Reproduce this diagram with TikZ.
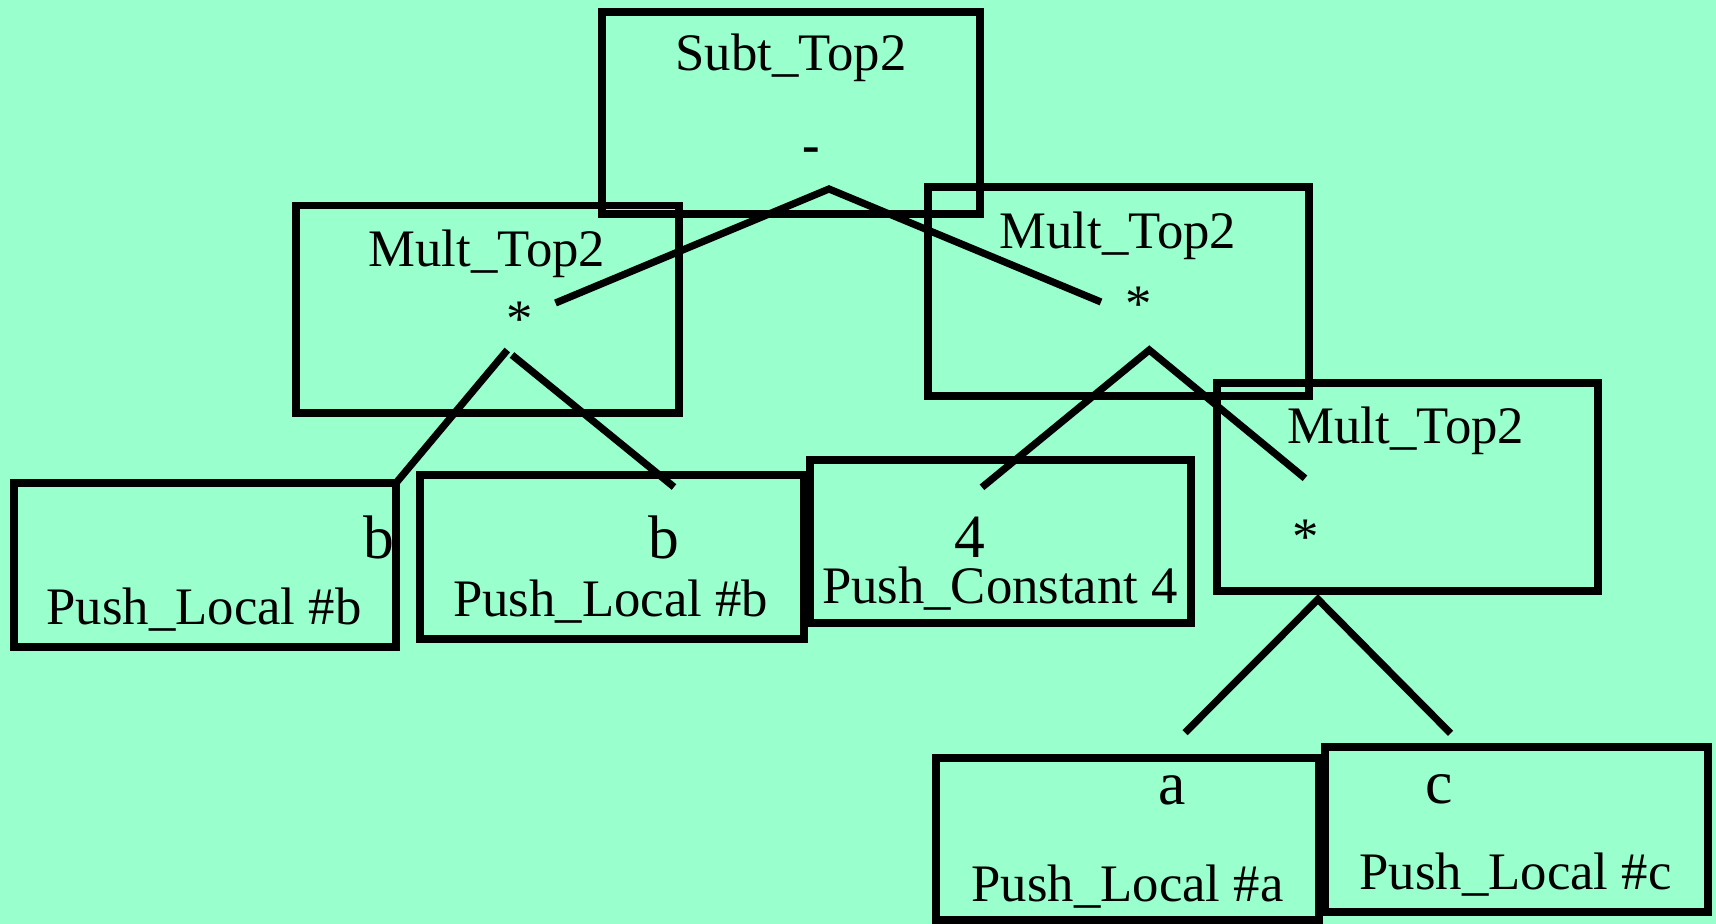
\documentclass[tikz,border=0pt]{standalone}
\usepackage{fontspec}
\setmainfont{Liberation Serif}
\definecolor{mint}{RGB}{153,255,204}
\begin{document}
\begin{tikzpicture}[x=1cm,y=1cm,
  box/.style={draw=black, line width=2.05pt, rectangle, inner sep=0pt, outer sep=0pt},
  edge/.style={draw=black, line width=2.05pt},
  lbl/.style={inner sep=0pt, anchor=base, font=\fontsize{15pt}{18pt}\selectfont},
  push/.style={inner sep=0pt, anchor=base, font=\fontsize{15pt}{18pt}\selectfont},
  var/.style={inner sep=0pt, anchor=base, font=\fontsize{17.5pt}{21pt}\selectfont},
]
\fill[mint] (0,0) rectangle (17.16,-9.24);
\useasboundingbox (0,0) rectangle (17.16,-9.24);

% operator boxes
\node[box, minimum width=3.78cm, minimum height=2.02cm] (sub) at (7.91,-1.13) {};
\node[box, minimum width=3.83cm, minimum height=2.075cm] (mulL) at (4.875,-3.0925) {};
\node[box, minimum width=3.81cm, minimum height=2.09cm] (mulR) at (11.185,-2.915) {};
\node[box, minimum width=3.81cm, minimum height=2.08cm] (mulC) at (14.075,-4.87) {};

% leaf boxes
\node[box, minimum width=3.82cm, minimum height=1.64cm] (pb1) at (2.05,-5.65) {};
\node[box, minimum width=3.84cm, minimum height=1.64cm] (pb2) at (6.12,-5.57) {};
\node[box, minimum width=3.81cm, minimum height=1.63cm] (pc4) at (10.005,-5.415) {};
\node[box, minimum width=3.83cm, minimum height=1.62cm] (pa) at (11.275,-8.39) {};
\node[box, minimum width=3.83cm, minimum height=1.65cm] (pc) at (15.165,-8.295) {};

% texts of the operator boxes
\node[lbl] (subName) at (7.91,-0.71) {Subt\_Top2};
\node[lbl] (subOp) at (8.115,-1.63) {\bfseries -};
\node[lbl] (mulLName) at (4.87,-2.667) {Mult\_Top2};
\node[lbl] (mulLOp) at (5.20,-3.364) {*};
\node[lbl] (mulRName) at (11.18,-2.483) {Mult\_Top2};
\node[lbl] (mulROp) at (11.39,-3.22) {*};
\node[lbl] (mulCName) at (14.06,-4.433) {Mult\_Top2};
\node[lbl] (mulCOp) at (13.06,-5.544) {*};

% texts of the leaf boxes
\node[var] (pb1Var) at (3.79,-5.583) {b};
\node[push] (pb1Name) at (2.04,-6.25) {Push\_Local \#b};
\node[var] (pb2Var) at (6.64,-5.583) {b};
\node[push] (pb2Name) at (6.106,-6.167) {Push\_Local \#b};
\node[var] (pc4Var) at (9.70,-5.58) {4};
\node[push] (pc4Name) at (10.00,-6.033) {Push\_Constant 4};
\node[var] (paVar) at (11.725,-8.05) {a};
\node[push] (paName) at (11.275,-9.017) {Push\_Local \#a};
\node[var] (pcVar) at (14.39,-8.04) {c};
\node[push] (pcName) at (15.155,-8.90) {Push\_Local \#c};

% branch points of the tree
\coordinate (subApex) at (8.29,-1.89);
\coordinate (subL) at (5.555,-3.03);
\coordinate (subR) at (11.01,-3.02);
\coordinate (mulLApexA) at (5.073,-3.50);
\coordinate (mulLApexB) at (5.12,-3.55);
\coordinate (mulLR) at (6.74,-4.87);
\coordinate (mulRApex) at (11.493,-3.50);
\coordinate (mulRL) at (9.82,-4.873);
\coordinate (mulRR) at (13.05,-4.783);
\coordinate (mulCApex) at (13.18,-5.993);
\coordinate (mulCL) at (11.85,-7.327);
\coordinate (mulCR) at (14.505,-7.333);

% branches
\draw[edge] (subL) -- (subApex) -- (subR);
\draw[edge] (pb1.north east) -- (mulLApexA);
\draw[edge] (mulLApexB) -- (mulLR);
\draw[edge] (mulRL) -- (mulRApex) -- (mulRR);
\draw[edge] (mulCL) -- (mulCApex) -- (mulCR);
\end{tikzpicture}
\end{document}
